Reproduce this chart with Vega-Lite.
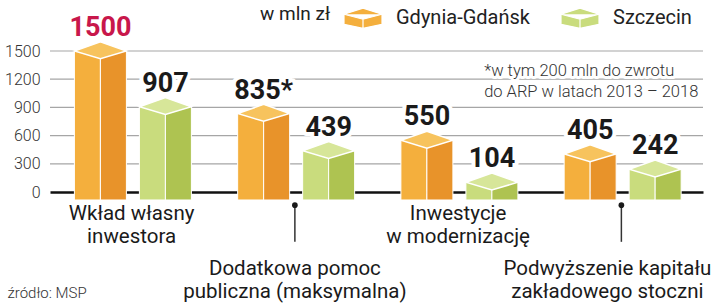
{
  "$schema": "https://vega.github.io/schema/vega-lite/v6.json",
  "width": 653,
  "height": 141,
  "autosize": {"type": "none"},
  "padding": {"left": 50, "top": 51, "right": 17, "bottom": 112},
  "background": "white",
  "datasets": {
    "slupki": [
      {"kategoria": "Wkład własny\ninwestora", "seria": "Gdynia-Gdańsk", "wartosc": 1500, "etykieta": "1500"},
      {"kategoria": "Wkład własny\ninwestora", "seria": "Szczecin", "wartosc": 907, "etykieta": "907"},
      {"kategoria": "Dodatkowa pomoc\npubliczna (maksymalna)", "seria": "Gdynia-Gdańsk", "wartosc": 835, "etykieta": "835*"},
      {"kategoria": "Dodatkowa pomoc\npubliczna (maksymalna)", "seria": "Szczecin", "wartosc": 439, "etykieta": "439"},
      {"kategoria": "Inwestycje\nw modernizację", "seria": "Gdynia-Gdańsk", "wartosc": 550, "etykieta": "550"},
      {"kategoria": "Inwestycje\nw modernizację", "seria": "Szczecin", "wartosc": 104, "etykieta": "104"},
      {"kategoria": "Podwyższenie kapitału\nzakładowego stoczni", "seria": "Gdynia-Gdańsk", "wartosc": 405, "etykieta": "405"},
      {"kategoria": "Podwyższenie kapitału\nzakładowego stoczni", "seria": "Szczecin", "wartosc": 242, "etykieta": "242"}
    ],
    "kategorie": [
      {"kategoria": "Wkład własny\ninwestora", "rzad": 1},
      {"kategoria": "Dodatkowa pomoc\npubliczna (maksymalna)", "rzad": 2},
      {"kategoria": "Inwestycje\nw modernizację", "rzad": 1},
      {"kategoria": "Podwyższenie kapitału\nzakładowego stoczni", "rzad": 2}
    ],
    "siatka": [
      {"poziom": 300}, {"poziom": 600}, {"poziom": 900}, {"poziom": 1200}, {"poziom": 1500}
    ]
  },
  "layer": [
    {
      "data": {"name": "siatka"},
      "mark": {"type": "rule", "color": "#a6a6a6", "strokeWidth": 1.2},
      "encoding": {
        "y": {"field": "poziom", "type": "quantitative", "scale": {"domain": [0, 1500], "nice": false}, "title": null}
      }
    },
    {
      "data": {"name": "slupki"},
      "mark": {"type": "bar", "stroke": "white", "strokeWidth": 1},
      "encoding": {
        "x": {
          "field": "kategoria",
          "type": "nominal",
          "sort": null,
          "scale": {"paddingInner": 0, "paddingOuter": 0},
          "axis": {
            "title": "źródło: MSP",
            "labels": false,
            "ticks": false,
            "grid": false,
            "domainColor": "#111111",
            "domainWidth": 2.5,
            "titleX": -43,
            "titleY": 100,
            "titleAlign": "left",
            "titleAnchor": "start",
            "titleBaseline": "middle",
            "titleFont": "Roboto",
            "titleFontSize": 15,
            "titleFontWeight": 300,
            "titleColor": "#333333"
          }
        },
        "xOffset": {"field": "seria", "type": "nominal", "scale": {"type": "band", "range": [24.4, 115.4], "paddingInner": 0.6, "paddingOuter": 0}},
        "y": {
          "field": "wartosc",
          "type": "quantitative",
          "scale": {"domain": [0, 1500], "nice": false},
          "title": null,
          "axis": {"values": [0, 300, 600, 900, 1200, 1500], "tickCount": 20}
        },
        "y2": {"datum": -85},
        "color": {
          "field": "seria",
          "type": "nominal",
          "scale": {"domain": ["Gdynia-Gdańsk", "Szczecin"], "range": ["#F4AF3D", "#C9DC7D"]},
          "legend": {
            "orient": "none",
            "legendX": 210,
            "legendY": -53,
            "direction": "horizontal",
            "title": "w mln zł",
            "titleOrient": "left",
            "titleAnchor": "middle",
            "titleBaseline": "middle",
            "titleFont": "Roboto",
            "titleFontSize": 19,
            "titleFontWeight": "normal",
            "titleColor": "#222222",
            "titlePadding": 12,
            "symbolType": "M-1,-0.21L0,-0.53L1,-0.21L1,0.32L0,0.53L-1,0.32Z M-1,-0.21L0,0.05L1,-0.21 M0,0.05L0,0.53",
            "symbolSize": 1444,
            "symbolStrokeColor": "white",
            "symbolStrokeWidth": 1.2,
            "symbolOpacity": 1,
            "labelFont": "Roboto",
            "labelFontSize": 20,
            "labelColor": "#222222",
            "labelOffset": 13,
            "columnPadding": 28,
            "padding": 0
          }
        }
      }
    },
    {
      "data": {"name": "slupki"},
      "mark": {"type": "bar", "stroke": "white", "strokeWidth": 1},
      "encoding": {
        "x": {"field": "kategoria", "type": "nominal", "sort": null},
        "xOffset": {"field": "seria", "type": "nominal", "scale": {"type": "band", "range": [50.4, 141.4], "paddingInner": 0.6, "paddingOuter": 0}},
        "y": {"field": "wartosc", "type": "quantitative", "scale": {"domain": [0, 1500], "nice": false}, "title": null},
        "y2": {"datum": -85},
        "color": {"condition": {"test": "datum.seria === 'Szczecin'", "value": "#AEC351"}, "value": "#E8932A"}
      }
    },
    {
      "data": {"name": "slupki"},
      "mark": {"type": "point", "filled": true, "opacity": 1, "shape": "M-1,0L0,-0.35L1,0L0,0.3Z", "size": 2704, "stroke": "white", "strokeWidth": 1.5},
      "encoding": {
        "x": {"field": "kategoria", "type": "nominal", "sort": null},
        "xOffset": {"field": "seria", "type": "nominal", "scale": {"type": "point", "range": [50.4, 115.4], "padding": 0}},
        "y": {"field": "wartosc", "type": "quantitative", "scale": {"domain": [0, 1500], "nice": false}, "title": null},
        "fill": {"condition": {"test": "datum.seria === 'Szczecin'", "value": "#D7E699"}, "value": "#F7C35D"}
      }
    },
    {
      "data": {"name": "slupki"},
      "mark": {"type": "text", "font": "Roboto", "fontSize": 27, "fontWeight": "bold", "baseline": "alphabetic", "dy": -15, "color": "white", "stroke": "white", "strokeWidth": 8, "strokeJoin": "round"},
      "encoding": {
        "x": {"field": "kategoria", "type": "nominal", "sort": null},
        "xOffset": {"field": "seria", "type": "nominal", "scale": {"type": "point", "range": [50.4, 115.4], "padding": 0}},
        "y": {"field": "wartosc", "type": "quantitative", "scale": {"domain": [0, 1500], "nice": false}, "title": null},
        "text": {"field": "etykieta"}
      }
    },
    {
      "data": {"name": "slupki"},
      "mark": {"type": "text", "font": "Roboto", "fontSize": 27, "fontWeight": "bold", "baseline": "alphabetic", "dy": -15},
      "encoding": {
        "x": {"field": "kategoria", "type": "nominal", "sort": null},
        "xOffset": {"field": "seria", "type": "nominal", "scale": {"type": "point", "range": [50.4, 115.4], "padding": 0}},
        "y": {"field": "wartosc", "type": "quantitative", "scale": {"domain": [0, 1500], "nice": false}, "title": null},
        "text": {"field": "etykieta"},
        "color": {"condition": {"test": "datum.wartosc === 1500", "value": "#C8174B"}, "value": "#1a1a1a"}
      }
    },
    {
      "data": {"name": "kategorie"},
      "transform": [{"filter": "datum.rzad === 1"}],
      "mark": {"type": "text", "font": "Roboto", "fontSize": 20.5, "color": "#1a1a1a", "baseline": "alphabetic", "lineBreak": "\n", "lineHeight": 23, "dy": 28},
      "encoding": {
        "x": {"field": "kategoria", "type": "nominal", "sort": null},
        "y": {"datum": 0, "scale": {"domain": [0, 1500], "nice": false}, "title": null},
        "text": {"field": "kategoria"}
      }
    },
    {
      "data": {"name": "kategorie"},
      "transform": [{"filter": "datum.kategoria === 'Dodatkowa pomoc\\npubliczna (maksymalna)'"}],
      "mark": {"type": "text", "font": "Roboto", "fontSize": 20.5, "color": "#1a1a1a", "baseline": "alphabetic", "lineBreak": "\n", "lineHeight": 23, "dy": 83},
      "encoding": {
        "x": {"field": "kategoria", "type": "nominal", "sort": null},
        "y": {"datum": 0, "scale": {"domain": [0, 1500], "nice": false}, "title": null},
        "text": {"field": "kategoria"}
      }
    },
    {
      "data": {"name": "kategorie"},
      "transform": [{"filter": "datum.kategoria === 'Podwyższenie kapitału\\nzakładowego stoczni'"}],
      "mark": {"type": "text", "font": "Roboto", "fontSize": 20.5, "color": "#1a1a1a", "baseline": "alphabetic", "lineBreak": "\n", "lineHeight": 23, "dy": 83, "dx": -14},
      "encoding": {
        "x": {"field": "kategoria", "type": "nominal", "sort": null},
        "y": {"datum": 0, "scale": {"domain": [0, 1500], "nice": false}, "title": null},
        "text": {"field": "kategoria"}
      }
    },
    {
      "data": {"name": "kategorie"},
      "transform": [{"filter": "datum.rzad === 2"}],
      "mark": {"type": "rule", "color": "#333333", "strokeWidth": 1.5},
      "encoding": {
        "x": {"field": "kategoria", "type": "nominal", "sort": null},
        "y": {"datum": -140, "scale": {"domain": [0, 1500], "nice": false}, "title": null},
        "y2": {"datum": -530}
      }
    },
    {
      "data": {"name": "kategorie"},
      "transform": [{"filter": "datum.rzad === 2"}],
      "mark": {"type": "point", "filled": true, "shape": "circle", "size": 32, "color": "#1a1a1a", "opacity": 1},
      "encoding": {
        "x": {"field": "kategoria", "type": "nominal", "sort": null},
        "y": {"datum": -140, "scale": {"domain": [0, 1500], "nice": false}, "title": null}
      }
    },
    {
      "data": {"values": [{}]},
      "mark": {"type": "text", "text": "*w tym 200 mln do zwrotu\ndo ARP w latach 2013 – 2018", "lineBreak": "\n", "lineHeight": 21, "align": "left", "baseline": "alphabetic", "dx": 26, "font": "Roboto", "fontSize": 16.5, "fontWeight": 300, "color": "white", "stroke": "white", "strokeWidth": 6, "strokeJoin": "round"},
      "encoding": {
        "x": {"datum": "Inwestycje\nw modernizację"},
        "y": {"datum": 1230, "scale": {"domain": [0, 1500], "nice": false}, "title": null}
      }
    },
    {
      "data": {"values": [{}]},
      "mark": {"type": "text", "text": "*w tym 200 mln do zwrotu\ndo ARP w latach 2013 – 2018", "lineBreak": "\n", "lineHeight": 21, "align": "left", "baseline": "alphabetic", "dx": 26, "font": "Roboto", "fontSize": 16.5, "fontWeight": 300, "color": "#333333"},
      "encoding": {
        "x": {"datum": "Inwestycje\nw modernizację"},
        "y": {"datum": 1230, "scale": {"domain": [0, 1500], "nice": false}, "title": null}
      }
    }
  ],
  "resolve": {"scale": {"xOffset": "independent"}},
  "config": {
    "view": {"stroke": null},
    "axisY": {
      "format": "d",
      "grid": false,
      "domain": false,
      "ticks": false,
      "labelOverlap": false,
      "labelPadding": 10,
      "labelFont": "Roboto",
      "labelFontSize": 16,
      "labelFontWeight": 300,
      "labelColor": "#333333"
    }
  }
}
